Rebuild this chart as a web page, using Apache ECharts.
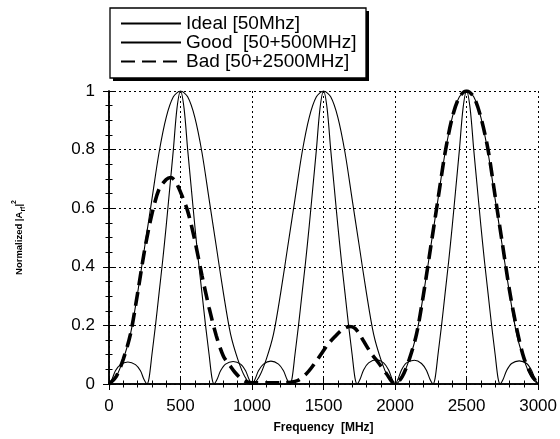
<!DOCTYPE html>
<html>
<head>
<meta charset="utf-8">
<script src="https://cdn.jsdelivr.net/npm/echarts@6/dist/echarts.min.js"></script>
<style>
html,body{margin:0;padding:0;background:#fff;}
#chart{width:560px;height:439px;}
</style>
</head>
<body>
<div id="chart"></div>
<script>
// ---- data ----
const seriesNames = ['Ideal [50Mhz]', 'Good  [50+500MHz]', 'Bad [50+2500MHz]'];
const xTicks = [0, 500, 1000, 1500, 2000, 2500, 3000];
const yTicks = [0, 0.2, 0.4, 0.6, 0.8, 1];

const idealFreq = [0,50,100,150,200,250,300,350,400,450,500,550,600,650,700,750,800,850,900,950,
  1000,1050,1100,1150,1200,1250,1300,1350,1400,1450,1500,1550,1600,1650,1700,1750,1800,1850,1900,1950,
  2000,2050,2100,2150,2200,2250,2300,2350,2400,2450,2500,2550,2600,2650,2700,2750,2800,2850,2900,2950,3000];
const idealVal = [0,0.025,0.085,0.17,0.31,0.47,0.63,0.79,0.91,0.98,1,0.98,0.91,0.79,0.63,0.47,0.31,0.17,0.085,0.025,
  0,0.025,0.085,0.17,0.31,0.47,0.63,0.79,0.91,0.98,1,0.98,0.91,0.79,0.63,0.47,0.31,0.17,0.085,0.025,
  0,0.025,0.085,0.17,0.31,0.47,0.63,0.79,0.91,0.98,1,0.98,0.91,0.79,0.63,0.47,0.31,0.17,0.085,0.025,0];

const goodPts = [
  [0,0],[20,0.015],[45,0.045],[80,0.066],[132,0.075],[185,0.066],[220,0.045],[245,0.015],[265,0],
  [280,0.02],[300,0.1],[325,0.2],[350,0.31],[375,0.42],[400,0.54],[425,0.67],[450,0.8],[475,0.94],[500,1],
  [525,0.94],[550,0.8],[575,0.67],[600,0.54],[625,0.42],[650,0.31],[675,0.2],[700,0.1],[720,0.02],[735,0],
  [755,0.015],[780,0.045],[815,0.068],[868,0.077],[920,0.068],[955,0.045],[980,0.015],[1000,0],
  [1020,0.015],[1045,0.045],[1080,0.068],[1132,0.078],[1185,0.068],[1220,0.045],[1245,0.015],[1265,0],
  [1280,0.02],[1300,0.1],[1325,0.2],[1350,0.31],[1375,0.42],[1400,0.54],[1425,0.67],[1450,0.8],[1475,0.94],[1500,1],
  [1525,0.94],[1550,0.8],[1575,0.67],[1600,0.54],[1625,0.42],[1650,0.31],[1675,0.2],[1700,0.1],[1720,0.02],[1735,0],
  [1755,0.016],[1780,0.048],[1815,0.072],[1870,0.083],[1920,0.072],[1955,0.048],[1980,0.016],[2000,0],
  [2020,0.016],[2045,0.048],[2080,0.072],[2135,0.081],[2185,0.07],[2220,0.046],[2245,0.015],[2265,0],
  [2280,0.02],[2300,0.1],[2325,0.2],[2350,0.31],[2375,0.42],[2400,0.54],[2425,0.67],[2450,0.8],[2475,0.94],[2500,1],
  [2525,0.94],[2550,0.8],[2575,0.67],[2600,0.54],[2625,0.42],[2650,0.31],[2675,0.2],[2700,0.1],[2720,0.02],[2735,0],
  [2755,0.015],[2780,0.046],[2815,0.07],[2868,0.079],[2920,0.07],[2955,0.046],[2980,0.015],[3000,0]
];

const badPts = [
  [0,0],[50,0.025],[100,0.085],[150,0.17],[200,0.31],[250,0.46],[300,0.58],[350,0.665],[400,0.698],[430,0.705],
  [460,0.695],[500,0.655],[550,0.59],[600,0.49],[650,0.37],[700,0.26],[750,0.165],[800,0.095],[850,0.06],[880,0.04],
  [920,0.02],[960,0.008],[1000,0.004],[1100,0.004],[1200,0.004],[1270,0.006],[1320,0.012],[1380,0.035],[1430,0.065],
  [1480,0.1],[1530,0.135],[1580,0.162],[1630,0.185],[1680,0.196],[1720,0.19],[1760,0.163],[1800,0.13],[1840,0.1],
  [1880,0.075],[1940,0.035],[2000,0],[2050,0.025],[2100,0.085],[2150,0.17],[2200,0.31],[2250,0.47],[2300,0.63],
  [2350,0.79],[2400,0.91],[2450,0.98],[2500,1],[2550,0.98],[2600,0.91],[2650,0.8],[2700,0.64],[2750,0.48],
  [2800,0.32],[2850,0.19],[2900,0.09],[2950,0.035],[3000,0]
];

const idealPts = idealFreq.map((f, i) => [f, idealVal[i]]);

const FONT = '"Liberation Sans", Arial, Helvetica, sans-serif';
const chart = echarts.init(document.getElementById('chart'), null, {renderer: 'canvas'});

function baseX(extra) {
  return Object.assign({
    type: 'value', min: xTicks[0], max: xTicks[xTicks.length - 1], interval: 500,
    axisLine: {show: true, lineStyle: {color: '#000', width: 1.5}},
    axisTick: {show: true, inside: true, length: 6, lineStyle: {color: '#000', width: 1}},
    minorTick: {show: true, splitNumber: 5, length: 3.5, lineStyle: {color: '#000', width: 1}},
    splitLine: {show: false}, minorSplitLine: {show: false}
  }, extra);
}
function baseY(extra) {
  return Object.assign({
    type: 'value', min: yTicks[0], max: yTicks[yTicks.length - 1], interval: 0.2,
    axisLine: {show: true, lineStyle: {color: '#000', width: 1.5}},
    axisTick: {show: true, inside: true, length: 6, lineStyle: {color: '#000', width: 1}},
    minorTick: {show: true, splitNumber: 4, length: 3.5, lineStyle: {color: '#000', width: 1}},
    splitLine: {show: false}, minorSplitLine: {show: false}
  }, extra);
}

chart.setOption({
  animation: false,
  backgroundColor: '#fff',
  textStyle: {fontFamily: FONT, color: '#000'},
  grid: {left: 109, right: 21, top: 91, bottom: 49, containLabel: false},
  graphic: [
    {type: 'rect', z: 0, silent: true, shape: {x: 113, y: 11, width: 256, height: 70},
      style: {fill: '#000'}},
    {type: 'rect', z: 1, silent: true, shape: {x: 110, y: 8, width: 256, height: 70},
      style: {fill: '#fff', stroke: '#000', lineWidth: 1.3}}
  ],
  legend: {
    orient: 'vertical', left: 110, top: 8, z: 10,
    itemWidth: 60, itemHeight: 12, itemGap: 0,
    padding: [6, 9, 6, 10],
    backgroundColor: 'transparent', borderWidth: 0,
    itemStyle: {color: 'rgba(0,0,0,0)', borderWidth: 0, opacity: 0},
    textStyle: {fontFamily: FONT, fontSize: 19, lineHeight: 19, color: '#000'},
    data: seriesNames
  },
  xAxis: [
    baseX({
      position: 'bottom',
      name: 'Frequency  [MHz]', nameLocation: 'middle', nameGap: 38,
      nameTextStyle: {fontFamily: FONT, fontSize: 12, fontWeight: 'bold', color: '#000'},
      axisLabel: {show: true, margin: 14, fontSize: 17, color: '#000', fontFamily: FONT,
        formatter: v => String(v)},
      splitLine: {show: true, lineStyle: {color: '#000', width: 1, type: [2, 3]}}
    }),
    baseX({position: 'top', axisLabel: {show: false}})
  ],
  yAxis: [
    baseY({
      position: 'left',
      name: '{a|Normalized |A}{b|rf}{a||}{c|2}', nameLocation: 'middle', nameGap: 82, nameRotate: 90,
      nameTextStyle: {
        rich: {
          a: {fontFamily: FONT, fontSize: 9.5, fontWeight: 'bold', color: '#000', lineHeight: 16, verticalAlign: 'middle'},
          b: {fontFamily: FONT, fontSize: 7, fontWeight: 'bold', color: '#000', lineHeight: 16, verticalAlign: 'bottom'},
          c: {fontFamily: FONT, fontSize: 7, fontWeight: 'bold', color: '#000', lineHeight: 16, verticalAlign: 'top'}
        }
      },
      axisLabel: {show: true, margin: 14, fontSize: 17, color: '#000', fontFamily: FONT,
        formatter: v => String(v)},
      splitLine: {show: true, lineStyle: {color: '#000', width: 1, type: [2, 3]}}
    }),
    baseY({position: 'right', axisLabel: {show: false}})
  ],
  series: [
    {
      name: seriesNames[0], type: 'line', xAxisIndex: 0, yAxisIndex: 0,
      data: idealPts, symbol: 'none', smooth: 0.3, z: 3,
      lineStyle: {color: '#000', width: 1.1, type: 'solid'}, itemStyle: {color: '#000'}
    },
    {
      name: seriesNames[1], type: 'line', xAxisIndex: 0, yAxisIndex: 0,
      data: goodPts, symbol: 'none', smooth: 0.3, z: 3,
      lineStyle: {color: '#000', width: 1.1, type: 'solid'}, itemStyle: {color: '#000'}
    },
    {
      name: seriesNames[2], type: 'line', xAxisIndex: 0, yAxisIndex: 0,
      data: badPts, symbol: 'none', smooth: 0.3, z: 4,
      lineStyle: {color: '#000', width: 3.6, type: [14, 7]}, itemStyle: {color: '#000'}
    }
  ]
});
</script>
</body>
</html>
